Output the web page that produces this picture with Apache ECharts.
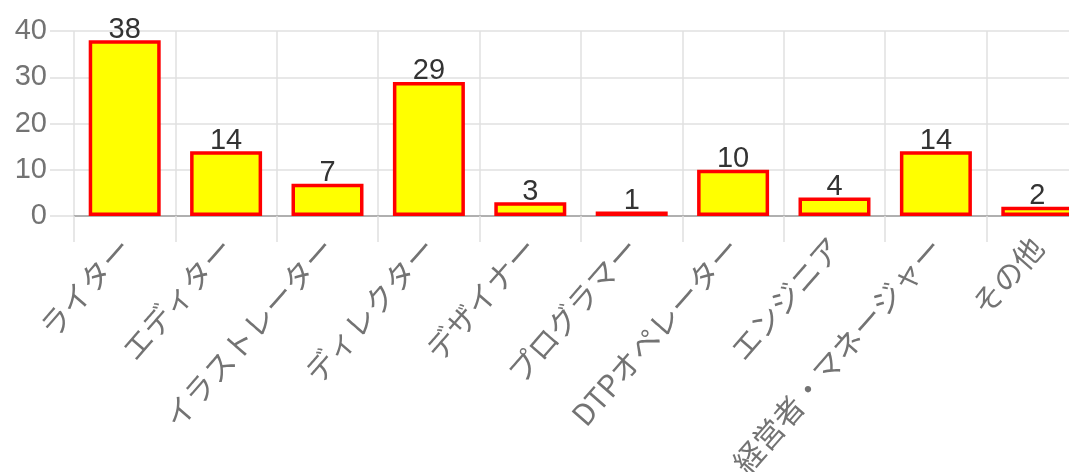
<!DOCTYPE html>
<html><head><meta charset="utf-8">
<script src="https://cdn.jsdelivr.net/npm/echarts@6/dist/echarts.min.js"></script>
<style>html,body{margin:0;padding:0;overflow:hidden;background:#fff;width:1069px;height:472px}#c{width:1088px;height:472px}</style>
</head><body><div id="c"></div>
<script>
const categories = ["ライター","エディター","イラストレーター","ディレクター","デザイナー","プログラマー","DTPオペレーター","エンジニア","経営者・マネージャー","その他"];
const values = [38,14,7,29,3,1,10,4,14,2];
const yTicks = {min:0,max:40,interval:10};

const chart = echarts.init(document.getElementById('c'), null, {renderer:'canvas'});
chart.setOption({
  animation:false,
  grid:{left:74,right:0,top:31,bottom:256,containLabel:false,outerBoundsMode:'none'},
  xAxis:{
    type:'category',data:categories,
    axisLine:{show:true,lineStyle:{color:'#b0b0b0',width:2}},
    axisTick:{show:true,length:26,lineStyle:{color:'#e0e0e0',width:1.5}},
    splitLine:{show:true,lineStyle:{color:'#e0e0e0',width:1.5}},
    axisLabel:{rotate:49,margin:26,fontSize:30,color:'#737373',fontFamily:'Noto Sans CJK JP',interval:0,hideOverlap:false}
  },
  yAxis:{
    type:'value',min:yTicks.min,max:yTicks.max,interval:yTicks.interval,
    axisLine:{show:false},
    axisTick:{show:true,length:24,lineStyle:{color:'#e0e0e0',width:1.5}},
    splitLine:{show:true,lineStyle:{color:'#e0e0e0',width:1.5}},
    axisLabel:{margin:27,fontSize:29,color:'#737373',fontFamily:'Liberation Sans'}
  },
  series:[{
    type:'bar',data:values,barCategoryGap:'29%',
    itemStyle:{color:'#ffff00',borderColor:'#ff0000',borderWidth:3.5},
    label:{show:true,position:'top',distance:-4,fontSize:29,color:'#333',fontFamily:'Liberation Sans'}
  }]
});
</script></body></html>
